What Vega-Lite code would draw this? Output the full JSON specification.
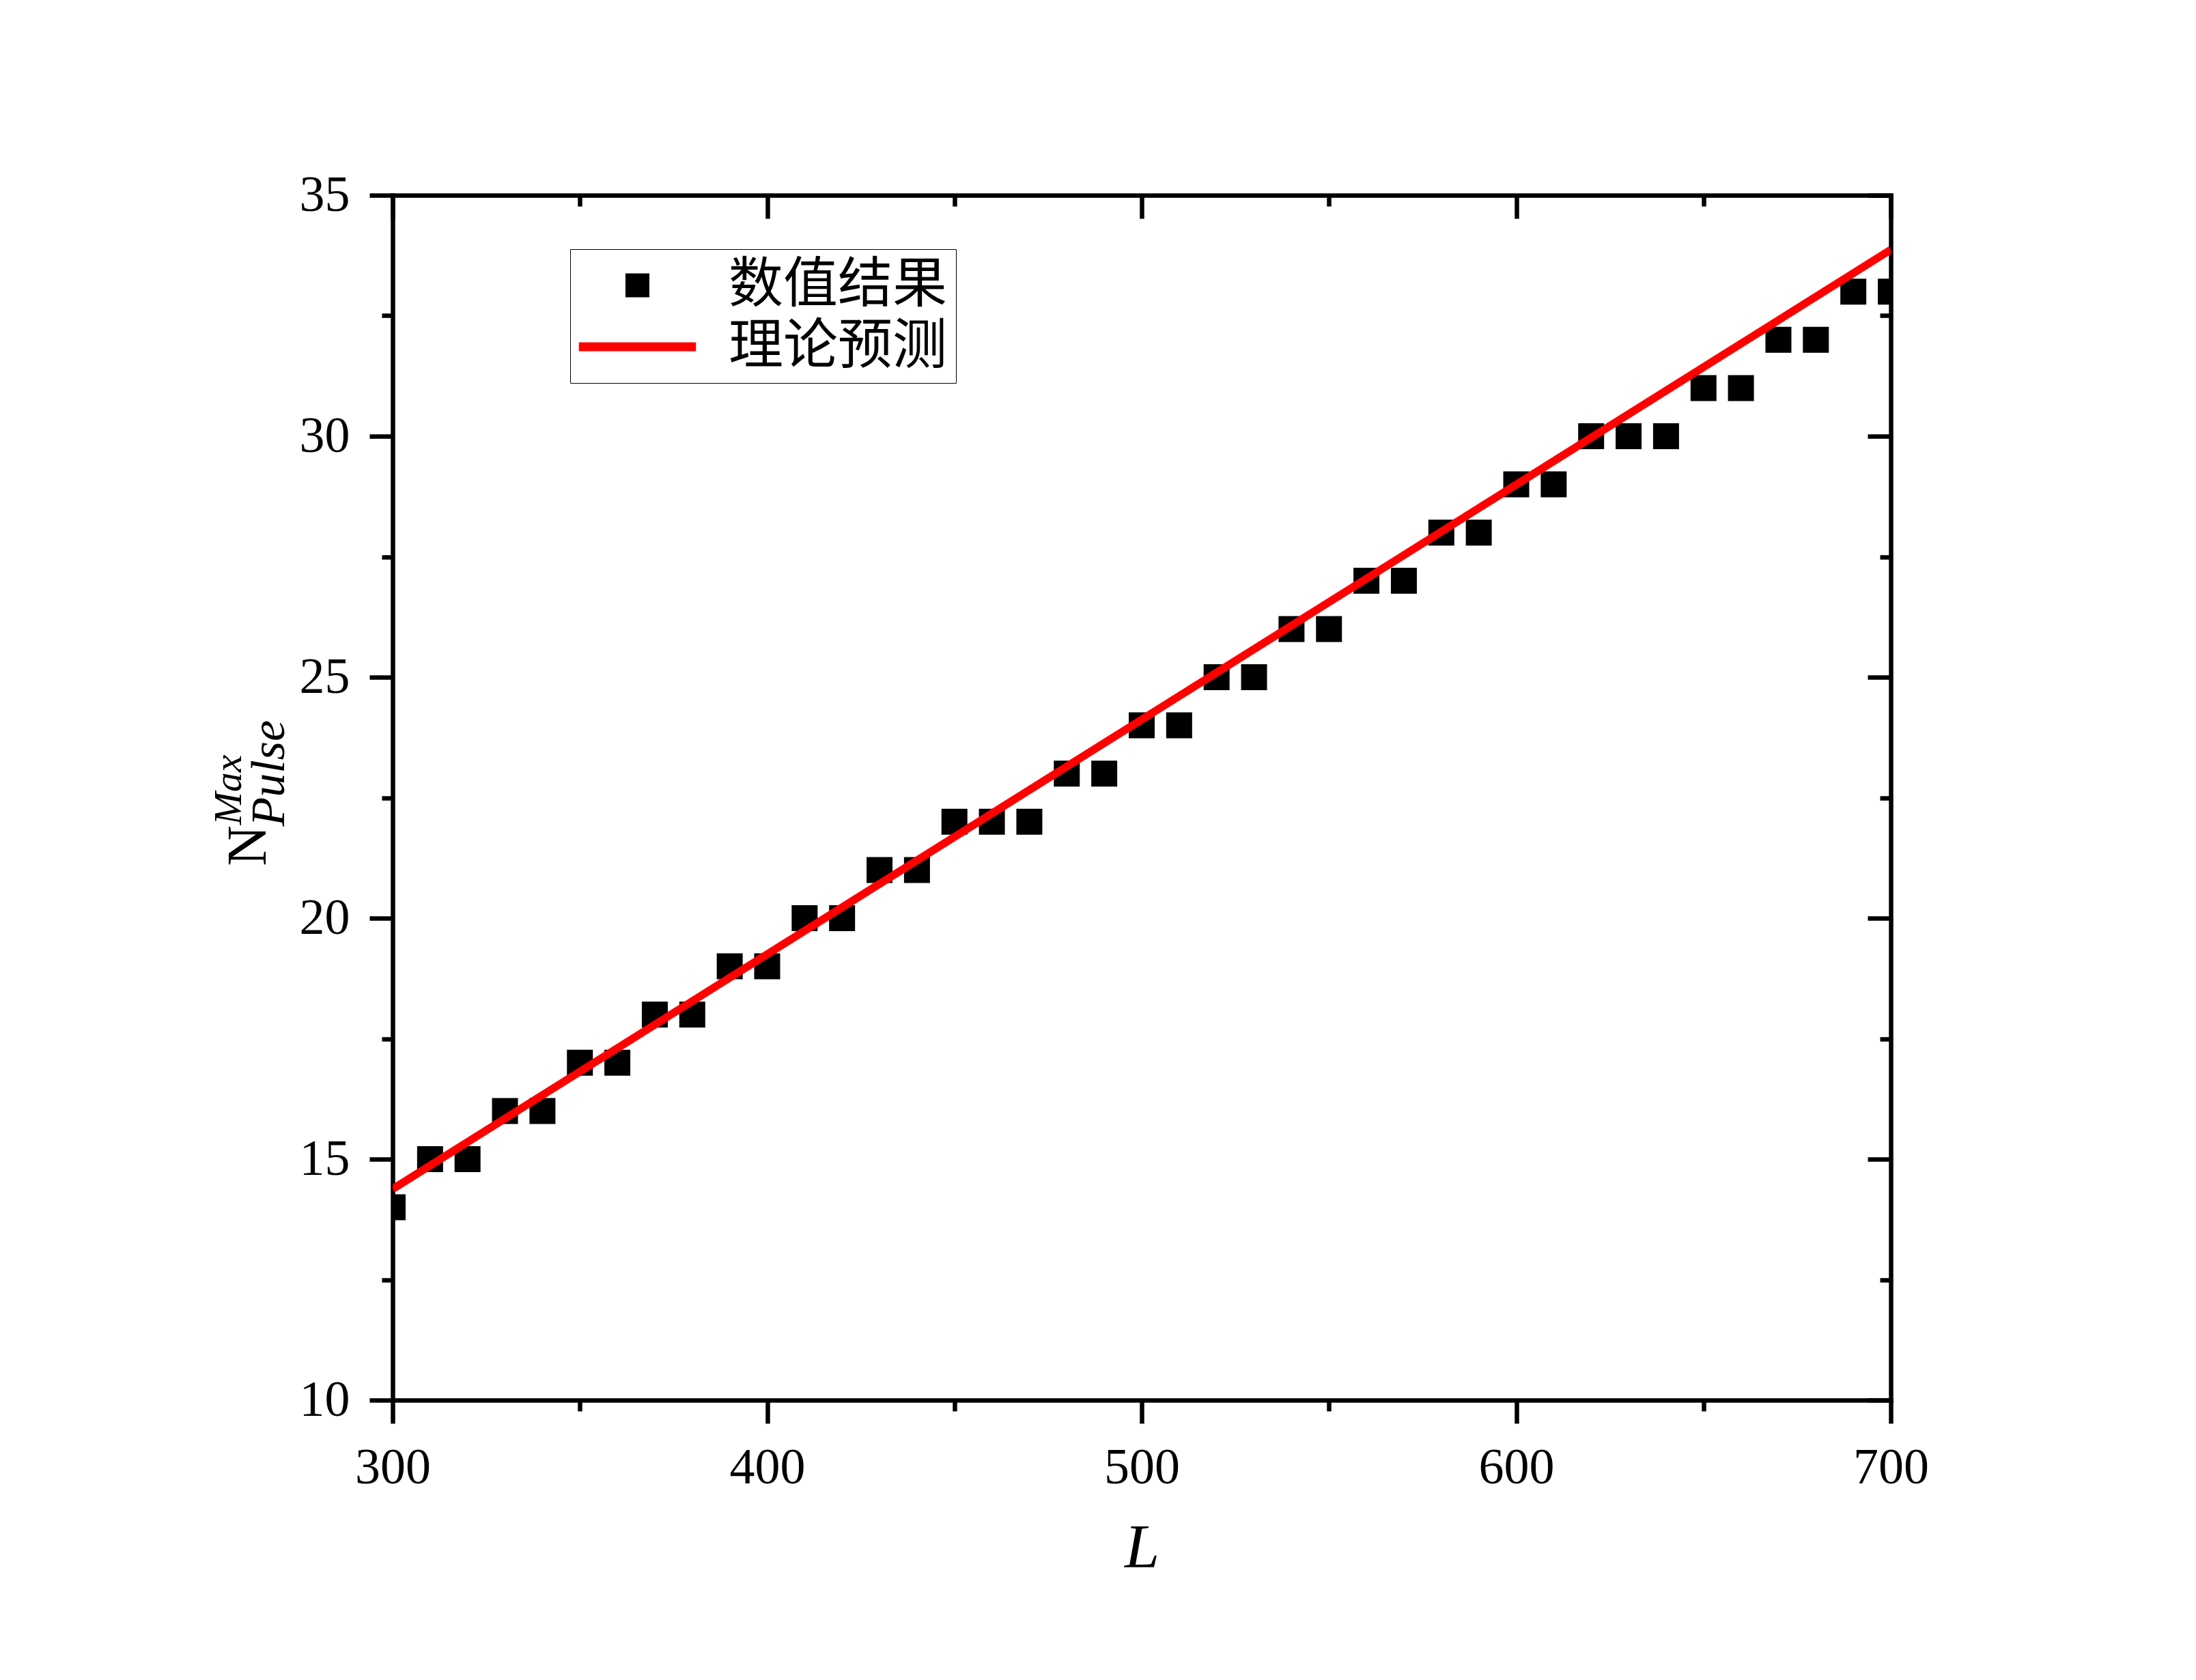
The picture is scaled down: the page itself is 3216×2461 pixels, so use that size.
{
  "$schema": "https://vega.github.io/schema/vega-lite/v6.json",
  "width": 2194,
  "height": 1765,
  "autosize": {"type": "none"},
  "padding": {"left": 575, "top": 286, "right": 447, "bottom": 410},
  "background": "white",
  "datasets": {
    "points": [
      {"L": 300, "N": 14, "series": "数值结果"},
      {"L": 310, "N": 15, "series": "数值结果"},
      {"L": 320, "N": 15, "series": "数值结果"},
      {"L": 330, "N": 16, "series": "数值结果"},
      {"L": 340, "N": 16, "series": "数值结果"},
      {"L": 350, "N": 17, "series": "数值结果"},
      {"L": 360, "N": 17, "series": "数值结果"},
      {"L": 370, "N": 18, "series": "数值结果"},
      {"L": 380, "N": 18, "series": "数值结果"},
      {"L": 390, "N": 19, "series": "数值结果"},
      {"L": 400, "N": 19, "series": "数值结果"},
      {"L": 410, "N": 20, "series": "数值结果"},
      {"L": 420, "N": 20, "series": "数值结果"},
      {"L": 430, "N": 21, "series": "数值结果"},
      {"L": 440, "N": 21, "series": "数值结果"},
      {"L": 450, "N": 22, "series": "数值结果"},
      {"L": 460, "N": 22, "series": "数值结果"},
      {"L": 470, "N": 22, "series": "数值结果"},
      {"L": 480, "N": 23, "series": "数值结果"},
      {"L": 490, "N": 23, "series": "数值结果"},
      {"L": 500, "N": 24, "series": "数值结果"},
      {"L": 510, "N": 24, "series": "数值结果"},
      {"L": 520, "N": 25, "series": "数值结果"},
      {"L": 530, "N": 25, "series": "数值结果"},
      {"L": 540, "N": 26, "series": "数值结果"},
      {"L": 550, "N": 26, "series": "数值结果"},
      {"L": 560, "N": 27, "series": "数值结果"},
      {"L": 570, "N": 27, "series": "数值结果"},
      {"L": 580, "N": 28, "series": "数值结果"},
      {"L": 590, "N": 28, "series": "数值结果"},
      {"L": 600, "N": 29, "series": "数值结果"},
      {"L": 610, "N": 29, "series": "数值结果"},
      {"L": 620, "N": 30, "series": "数值结果"},
      {"L": 630, "N": 30, "series": "数值结果"},
      {"L": 640, "N": 30, "series": "数值结果"},
      {"L": 650, "N": 31, "series": "数值结果"},
      {"L": 660, "N": 31, "series": "数值结果"},
      {"L": 670, "N": 32, "series": "数值结果"},
      {"L": 680, "N": 32, "series": "数值结果"},
      {"L": 690, "N": 33, "series": "数值结果"},
      {"L": 700, "N": 33, "series": "数值结果"}
    ],
    "theory": [
      {"L": 300, "N": 14.38, "series": "理论预测"},
      {"L": 500, "N": 24.12, "series": "理论预测"},
      {"L": 700, "N": 33.87, "series": "理论预测"}
    ]
  },
  "layer": [
    {
      "data": {"name": "points"},
      "mark": {"type": "point", "filled": true, "size": 1444, "opacity": 1, "strokeWidth": 0, "clip": true},
      "encoding": {
        "x": {
          "field": "L", "type": "quantitative",
          "scale": {"domain": [300, 700], "nice": false, "zero": false},
          "axis": {
            "orient": "bottom",
            "values": [300, 350, 400, 450, 500, 550, 600, 650, 700],
            "tickSize": {"condition": {"test": "datum.value % 100 === 0", "value": 34}, "value": 16},
            "labelExpr": "datum.value % 100 === 0 ? datum.label : ''",
            "labelPadding": 29,
            "labelFlush": false,
            "labelOverlap": false,
            "title": "L",
            "titleFontStyle": "italic",
            "titleFontSize": 92,
            "titleX": 1097,
            "titleY": 244,
            "titleAlign": "center",
            "titleBaseline": "alphabetic"
          }
        },
        "y": {
          "field": "N", "type": "quantitative",
          "scale": {"domain": [10, 35], "nice": false, "zero": false},
          "axis": {
            "orient": "left",
            "values": [10, 12.5, 15, 17.5, 20, 22.5, 25, 27.5, 30, 32.5, 35],
            "tickSize": {"condition": {"test": "datum.value % 5 === 0", "value": 34}, "value": 16},
            "labelExpr": "datum.value % 5 === 0 ? datum.label : ''",
            "labelPadding": 29,
            "labelFlush": false,
            "labelOverlap": false,
            "title": "N",
            "titleFontSize": 82,
            "titleFontStyle": "normal",
            "titleAngle": 270,
            "titleX": -187,
            "titleY": 982,
            "titleAlign": "left",
            "titleBaseline": "alphabetic"
          }
        },
        "color": {
          "field": "series", "type": "nominal",
          "scale": {"domain": ["数值结果", "理论预测"], "range": ["#000000", "#ff0000"]},
          "legend": {"title": null, "orient": "none", "legendX": 260, "legendY": 79,
            "encode": {"legend": {"update": {"strokeWidth": {"value": 3}}}}}
        },
        "shape": {
          "field": "series", "type": "nominal",
          "scale": {"domain": ["数值结果", "理论预测"], "range": ["square", "M-4.9,-0.37H4.9V0.37H-4.9Z"]},
          "legend": {"title": null, "orient": "none", "legendX": 260, "legendY": 79,
            "encode": {"legend": {"update": {"strokeWidth": {"value": 3}}}}}
        }
      }
    },
    {
      "data": {"name": "theory"},
      "mark": {"type": "line", "strokeWidth": 11.5, "clip": true},
      "encoding": {
        "x": {
          "field": "L", "type": "quantitative",
          "axis": {
            "orient": "top",
            "values": [300, 350, 400, 450, 500, 550, 600, 650, 700],
            "tickSize": {"condition": {"test": "datum.value % 100 === 0", "value": -34}, "value": -16},
            "labels": false,
            "title": null
          }
        },
        "y": {
          "field": "N", "type": "quantitative",
          "axis": {
            "orient": "right",
            "values": [10, 12.5, 15, 17.5, 20, 22.5, 25, 27.5, 30, 32.5, 35],
            "tickSize": {"condition": {"test": "datum.value % 5 === 0", "value": -34}, "value": -16},
            "labels": false,
            "title": null
          }
        },
        "color": {"field": "series", "type": "nominal", "legend": null}
      }
    },
    {
      "data": {"name": "theory"},
      "mark": {"type": "line", "strokeOpacity": 0},
      "encoding": {
        "x": {"field": "L", "type": "quantitative", "axis": null},
        "y": {
          "field": "N", "type": "quantitative",
          "axis": {
            "orient": "left", "domain": false, "ticks": false, "labels": false,
            "title": "Max", "titleFontStyle": "italic", "titleFontSize": 58,
            "titleAngle": 270, "titleX": -223, "titleY": 922,
            "titleAlign": "left", "titleBaseline": "alphabetic"
          }
        }
      }
    },
    {
      "data": {"name": "theory"},
      "mark": {"type": "line", "strokeOpacity": 0},
      "encoding": {
        "x": {"field": "L", "type": "quantitative", "axis": null},
        "y": {
          "field": "N", "type": "quantitative",
          "axis": {
            "orient": "left", "domain": false, "ticks": false, "labels": false,
            "title": "Pulse", "titleFontStyle": "italic", "titleFontSize": 70,
            "titleAngle": 270, "titleX": -160, "titleY": 924,
            "titleAlign": "left", "titleBaseline": "alphabetic"
          }
        }
      }
    }
  ],
  "resolve": {"axis": {"x": "independent", "y": "independent"}},
  "config": {
    "font": "Liberation Serif",
    "view": {"stroke": null},
    "axis": {
      "grid": false,
      "domainColor": "#000000",
      "domainWidth": 6.5,
      "domainCap": "square",
      "tickColor": "#000000",
      "tickWidth": 6.5,
      "labelFont": "Liberation Serif",
      "labelFontSize": 74,
      "labelColor": "#000000",
      "titleFont": "Liberation Serif",
      "titleColor": "#000000",
      "titleFontWeight": "normal"
    },
    "legend": {
      "padding": 13,
      "symbolOffset": 45.5,
      "labelOffset": 93.5,
      "symbolSize": 1225,
      "symbolStrokeWidth": 0,
      "labelFont": "Noto Sans CJK SC",
      "labelFontSize": 80,
      "labelColor": "#000000",
      "labelLimit": 1000,
      "rowPadding": 10,
      "strokeColor": "#000000",
      "fillColor": "#ffffff"
    }
  }
}
